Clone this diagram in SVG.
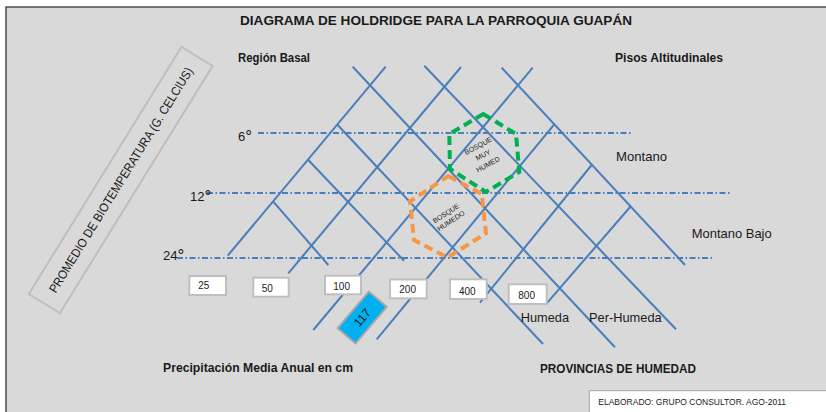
<svg xmlns="http://www.w3.org/2000/svg" width="826" height="412" viewBox="0 0 826 412">
<style>
text{font-family:"Liberation Sans",Arial,sans-serif;fill:#1a1a1a}
.b{font-weight:bold}
.grid{stroke:#4a7ebb;stroke-width:2;fill:none}
.dd{stroke:#4a7ebb;stroke-width:2;stroke-dasharray:6 2.5 1.5 2.5;fill:none}
.hexg{fill:none;stroke:#00b050;stroke-width:4;stroke-dasharray:9 5}
.hexo{fill:none;stroke:#f79646;stroke-width:4;stroke-dasharray:9 5}
.vbox{fill:#fff;stroke:#bfbfbf;stroke-width:2}
.num{font-size:10px}
.lbl{font-size:13px}
.tiny{font-size:7px}
.deg{font-size:17px}
</style>
<rect x="0" y="0" width="826" height="412" fill="#fff"/>
<rect x="6" y="7" width="830" height="420" fill="#d9d9d9" stroke="#4d4d4d" stroke-width="1.5"/>

<g id="title"><text class="b" x="240" y="25" font-size="13" textLength="392" lengthAdjust="spacingAndGlyphs">DIAGRAMA DE HOLDRIDGE PARA LA PARROQUIA GUAPÁN</text></g>

<g id="axis-temp">
<rect x="-145.3" y="-18.25" width="290.6" height="36.5" fill="none" stroke="#bfbfbf" stroke-width="2" transform="translate(120.7,180) rotate(-58.3)"/>
<text x="0" y="4.5" font-size="12.5" text-anchor="middle" textLength="262" lengthAdjust="spacingAndGlyphs" transform="translate(120.7,180) rotate(-58.3)">PROMEDIO DE BIOTEMPERATURA (G. CELCIUS)</text>
</g>

<g id="headers">
<text class="b" x="238" y="62" font-size="12" textLength="72" lengthAdjust="spacingAndGlyphs">Región Basal</text>
<text class="b" x="615" y="62" font-size="12" textLength="108" lengthAdjust="spacingAndGlyphs">Pisos Altitudinales</text>
<text class="b" x="163" y="372" font-size="12.5" textLength="190" lengthAdjust="spacingAndGlyphs">Precipitación Media Anual en cm</text>
<text class="b" x="540" y="372.5" font-size="12.5" textLength="156" lengthAdjust="spacingAndGlyphs">PROVINCIAS DE HUMEDAD</text>
</g>

<g id="connectors">
<line class="dd" x1="258" y1="133" x2="633" y2="133"/>
<line class="dd" x1="207" y1="193" x2="730" y2="193"/>
<line class="dd" x1="177" y1="258" x2="712" y2="258"/>
<line class="grid" x1="227.7" y1="255.7" x2="385.7" y2="66.7"/>
<line class="grid" x1="288.3" y1="273.3" x2="461" y2="67"/>
<line class="grid" x1="313.3" y1="330" x2="532.7" y2="67.7"/>
<line class="grid" x1="376.7" y1="339.3" x2="554.3" y2="124.3"/>
<line class="grid" x1="480" y1="302.7" x2="591.7" y2="165"/>
<line class="grid" x1="546.7" y1="303.3" x2="631" y2="206"/>
<line class="grid" x1="273.3" y1="201.7" x2="328.3" y2="265"/>
<line class="grid" x1="308.3" y1="160" x2="404" y2="260.7"/>
<line class="grid" x1="337.7" y1="125" x2="543" y2="344"/>
<line class="grid" x1="352.7" y1="66.7" x2="615" y2="347.3"/>
<line class="grid" x1="424.3" y1="65.7" x2="676" y2="329.3"/>
<line class="grid" x1="501.7" y1="67.7" x2="685" y2="265"/>
</g>

<g id="temp-labels">
<text class="lbl" x="238" y="141">6<tspan class="deg" dy="1">°</tspan></text>
<text class="lbl" x="190" y="201">12<tspan class="deg" dy="1">°</tspan></text>
<text class="lbl" x="163" y="260">24<tspan class="deg" dy="1">°</tspan></text>
</g>

<g id="bosque-muy-humedo">
<polygon class="hexg" points="483.3,114 516,134 519.3,172 486,192 450,169 449.3,134"/>
<g transform="translate(483,155) rotate(-28)">
<text class="tiny" x="0" y="-8" text-anchor="middle">BOSQUE</text>
<text class="tiny" x="0" y="2.5" text-anchor="middle">MUY</text>
<text class="tiny" x="0" y="13" text-anchor="middle">HUMED</text>
</g>
</g>

<g id="bosque-humedo">
<polygon class="hexo" points="448.3,176 481.7,194 486,233.3 447.5,257.5 414,240 410,201.5"/>
<g transform="translate(448.5,217) rotate(-33)">
<text class="tiny" x="0" y="-2" text-anchor="middle">BOSQUE</text>
<text class="tiny" x="0" y="7" text-anchor="middle">HUMEDO</text>
</g>
</g>

<g id="p25"><rect class="vbox" x="189.3" y="276" width="36.7" height="19"/><text class="num" x="198.3" y="289.3">25</text></g>
<g id="p50"><rect class="vbox" x="253.3" y="277.7" width="35.4" height="19"/><text class="num" x="261.7" y="291.5">50</text></g>
<g id="p100"><rect class="vbox" x="325" y="275.7" width="36" height="18.6"/><text class="num" x="333.3" y="290">100</text></g>
<g id="p200"><rect class="vbox" x="390" y="279.5" width="36.7" height="18.8"/><text class="num" x="399.3" y="293.3">200</text></g>
<g id="p400"><rect class="vbox" x="450" y="279.3" width="36.7" height="19.7"/><text class="num" x="459" y="295">400</text></g>
<g id="p800"><rect class="vbox" x="508.7" y="284.3" width="38" height="19.7"/><text class="num" x="518.3" y="299.3">800</text></g>

<g id="p117" transform="translate(362.2,317.5) rotate(-49.5)">
<rect x="-24" y="-11.7" width="48" height="23.4" fill="#00b0f0" stroke="#a6a6a6" stroke-width="2"/>
<text x="0" y="4.3" font-size="12" text-anchor="middle">117</text>
</g>

<g id="floors">
<text class="lbl" x="616" y="160.5" textLength="51" lengthAdjust="spacingAndGlyphs">Montano</text>
<text class="lbl" x="691.7" y="238" textLength="80" lengthAdjust="spacingAndGlyphs">Montano Bajo</text>
</g>

<g id="provinces">
<text class="lbl" x="520.7" y="321.5" textLength="48.3" lengthAdjust="spacingAndGlyphs">Humeda</text>
<text class="lbl" x="589" y="321.5" textLength="72.7" lengthAdjust="spacingAndGlyphs">Per-Humeda</text>
</g>

<g id="credit">
<rect x="589.3" y="390.7" width="250" height="30" fill="#fff" stroke="#a6a6a6" stroke-width="1"/>
<text x="598.3" y="405.3" font-size="8.5" textLength="187.7" lengthAdjust="spacingAndGlyphs">ELABORADO: GRUPO CONSULTOR. AGO-2011</text>
</g>
</svg>
